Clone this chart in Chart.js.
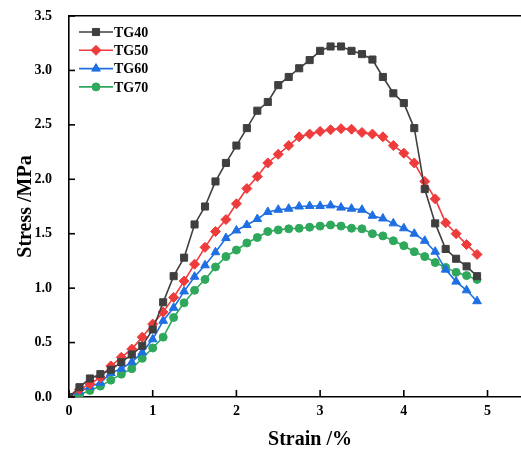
<!DOCTYPE html>
<html>
<head>
<meta charset="utf-8">
<script src="https://cdn.jsdelivr.net/npm/chart.js@4.4.1/dist/chart.umd.min.js"></script>
<style>
html,body{margin:0;padding:0;background:#fff;}
#wrap{width:521px;height:452px;position:relative;}
</style>
</head>
<body>
<div id="wrap"><canvas id="c"></canvas></div>
<script>
const strain = [0,0.125,0.25,0.375,0.5,0.625,0.75,0.875,1.0,1.125,1.25,1.375,1.5,1.625,1.75,1.875,2.0,2.125,2.25,2.375,2.5,2.625,2.75,2.875,3.0,3.125,3.25,3.375,3.5,3.625,3.75,3.875,4.0,4.125,4.25,4.375,4.5,4.625,4.75,4.875];
const tg40 = [0,0.09,0.17,0.21,0.25,0.32,0.39,0.47,0.62,0.87,1.11,1.28,1.585,1.75,1.98,2.15,2.31,2.47,2.63,2.71,2.865,2.94,3.02,3.095,3.18,3.22,3.22,3.18,3.15,3.10,2.94,2.79,2.70,2.47,1.91,1.595,1.36,1.27,1.20,1.11];
const tg50 = [0,0.07,0.12,0.18,0.285,0.365,0.44,0.55,0.67,0.78,0.915,1.065,1.22,1.375,1.52,1.63,1.775,1.915,2.025,2.15,2.23,2.31,2.39,2.415,2.44,2.455,2.465,2.46,2.43,2.415,2.39,2.31,2.24,2.15,1.98,1.82,1.60,1.50,1.40,1.31];
const tg60 = [0,0.05,0.095,0.13,0.22,0.26,0.32,0.41,0.53,0.70,0.82,0.97,1.105,1.21,1.33,1.46,1.53,1.58,1.635,1.70,1.72,1.73,1.75,1.755,1.755,1.76,1.74,1.73,1.72,1.665,1.64,1.595,1.55,1.50,1.435,1.335,1.17,1.06,0.98,0.88];
const tg70 = [0,0.02,0.06,0.10,0.155,0.21,0.26,0.355,0.45,0.55,0.73,0.865,0.98,1.08,1.195,1.29,1.35,1.415,1.465,1.52,1.535,1.545,1.55,1.56,1.57,1.58,1.57,1.55,1.545,1.50,1.48,1.435,1.39,1.335,1.29,1.235,1.19,1.145,1.115,1.08];
const seriesNames = ['TG40','TG50','TG60','TG70'];
const xTicks = [0,1,2,3,4,5];
const yTicks = [0,0.5,1.0,1.5,2.0,2.5,3.0,3.5];

const FONT = "'Liberation Serif','Times New Roman',serif";
const styles = [
  {color:'#3f3f3f', point:'rect', r:5},
  {color:'#ee3b3b', point:'rectRot', r:5},
  {color:'#1f6fe3', point:'triangle', r:5},
  {color:'#2fa85c', point:'circle', r:4}
];
const allSeries = [tg40,tg50,tg60,tg70];
const datasets = allSeries.map((vals,i)=>({
  label: seriesNames[i],
  data: strain.map((s,j)=>({x:s,y:vals[j]})),
  borderColor: styles[i].color,
  backgroundColor: styles[i].color,
  pointBackgroundColor: styles[i].color,
  pointBorderColor: styles[i].color,
  pointStyle: styles[i].point,
  pointRadius: styles[i].r,
  pointBorderWidth: 1,
  borderWidth: 1.6,
  tension: 0,
  fill: false
}));

const innerTicks = {
  id:'innerTicks',
  afterDraw(chart){
    const ctx = chart.ctx, ca = chart.chartArea;
    const xs = chart.scales.x, ys = chart.scales.y;
    ctx.save();
    ctx.strokeStyle = '#000';
    ctx.lineWidth = 1.6;
    xTicks.forEach(v=>{
      const px = xs.getPixelForValue(v);
      ctx.beginPath(); ctx.moveTo(px, ca.bottom); ctx.lineTo(px, ca.bottom-7); ctx.stroke();
    });
    yTicks.forEach(v=>{
      const py = ys.getPixelForValue(v);
      ctx.beginPath(); ctx.moveTo(ca.left, py); ctx.lineTo(ca.left+6, py); ctx.stroke();
    });
    ctx.restore();
  }
};

const customLegend = {
  id:'customLegend',
  afterDraw(chart){
    const ctx = chart.ctx, ca = chart.chartArea;
    ctx.save();
    chart.data.datasets.forEach((ds,i)=>{
      const y = ca.top + 16 + i*18.3;
      const x0 = ca.left + 10, x1 = ca.left + 44;
      ctx.strokeStyle = ds.borderColor;
      ctx.lineWidth = 1.6;
      ctx.beginPath(); ctx.moveTo(x0,y); ctx.lineTo(x1,y); ctx.stroke();
      ctx.fillStyle = ds.pointBackgroundColor;
      ctx.strokeStyle = ds.pointBorderColor;
      ctx.lineWidth = 1;
      Chart.helpers.drawPoint(ctx, {pointStyle: ds.pointStyle, radius: ds.pointRadius, borderWidth:1, rotation:0}, (x0+x1)/2, y);
      ctx.fillStyle = '#000';
      ctx.font = "bold 14px " + FONT;
      ctx.textBaseline = 'middle';
      ctx.textAlign = 'left';
      ctx.fillText(ds.label, x1 + 1, y + 1);
    });
    ctx.restore();
  }
};

new Chart(document.getElementById('c'), {
  type:'line',
  data:{datasets},
  plugins:[innerTicks, customLegend],
  options:{
    responsive:true,
    maintainAspectRatio:false,
    animation:false,
    layout:{autoPadding:false, padding:{top:16,left:0,right:0,bottom:0}},
    plugins:{legend:{display:false}, tooltip:{enabled:false}},
    scales:{
      x:{
        type:'linear', position:'bottom', min:0, max:5.4,
        afterBuildTicks(s){ s.ticks = xTicks.map(v=>({value:v})); },
        afterFit(s){ s.height = 55; s.paddingLeft = 0; s.paddingRight = 0; },
        grid:{display:false, drawTicks:false},
        border:{display:true, color:'#000', width:1.6},
        ticks:{color:'#000', padding:6, font:{family:FONT, size:14, weight:'bold'}, callback:v=>String(v)},
        title:{display:true, text:'      Strain /%', color:'#000', padding:{top:0,bottom:0}, font:{family:FONT, size:20, weight:'bold'}}
      },
      x2:{
        type:'linear', position:'top', min:0, max:5.4,
        afterFit(s){ s.height = 0; s.paddingLeft = 0; s.paddingRight = 0; },
        grid:{display:false, drawTicks:false},
        border:{display:true, color:'#000', width:1.6},
        ticks:{display:false}
      },
      y:{
        type:'linear', position:'left', min:0, max:3.5,
        afterBuildTicks(s){ s.ticks = yTicks.map(v=>({value:v})); },
        afterFit(s){ s.width = 69; s.paddingTop = 0; s.paddingBottom = 0; },
        grid:{display:false, drawTicks:false},
        border:{display:true, color:'#000', width:1.6},
        ticks:{color:'#000', padding:17, font:{family:FONT, size:14, weight:'bold'}, callback:v=>Number(v).toFixed(1)},
        title:{display:true, text:'Stress /MPa', color:'#000', padding:{top:14,bottom:0}, font:{family:FONT, size:20, weight:'bold'}}
      }
    }
  }
});
</script>
</body>
</html>
